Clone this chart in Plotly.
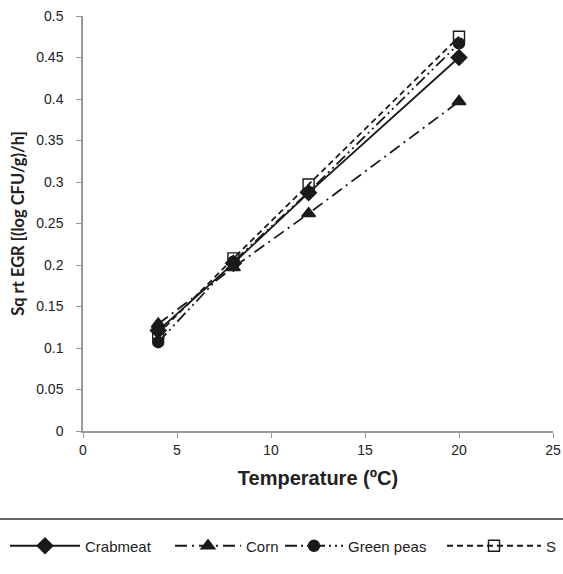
import plotly.graph_objects as go

temps = [4, 8, 12, 20]
crabmeat = [0.121, 0.202, 0.287, 0.450]
corn = [0.129, 0.197, 0.262, 0.397]
green_peas = [0.107, 0.204, 0.288, 0.467]
s_series = [0.117, 0.208, 0.297, 0.475]

series = [
    ("Crabmeat", crabmeat, "solid", "diamond", 12),
    ("Corn", corn, "12px,5px,2px,5px", "triangle-up", 12),
    ("Green peas", green_peas, "12px,4px,2px,4px,2px,4px", "circle", 11),
    ("S", s_series, "6px,4px", "square-open", 11),
]

# legend placement (container px) and symbol widths for each entry
legend_x_px = [5, 170, 280, 442]
legend_itemwidth = [70, 66, 58, 94]

FIG_W, FIG_H = 563, 574

fig = go.Figure()
for i, (name, vals, dash, sym, size) in enumerate(series):
    lg = "legend" if i == 0 else f"legend{i+1}"
    fig.add_trace(go.Scatter(
        x=temps, y=vals, name=name, mode="lines+markers", legend=lg,
        line=dict(color="#1a1a1a", width=1.8, dash=dash),
        marker=dict(symbol=sym, size=size, color="#1a1a1a",
                    line=dict(color="#1a1a1a", width=1.4)),
    ))

legend_font = dict(family="Liberation Sans, Arial, sans-serif", size=15, color="#222")
legend_common = dict(orientation="h", xref="container", yref="container",
                     y=1 - 546 / FIG_H, xanchor="left", yanchor="middle",
                     bgcolor="rgba(0,0,0,0)", font=legend_font,
                     itemsizing="trace", borderwidth=0)
legends = {}
for i in range(len(series)):
    key = "legend" if i == 0 else f"legend{i+1}"
    legends[key] = dict(legend_common, x=legend_x_px[i] / FIG_W,
                        itemwidth=legend_itemwidth[i])

axis_font = dict(family="Liberation Sans, Arial, sans-serif", size=14, color="#222")
fig.update_layout(
    width=FIG_W, height=FIG_H,
    margin=dict(l=83, r=10, t=16, b=143),
    paper_bgcolor="white", plot_bgcolor="white",
    showlegend=True,
    xaxis=dict(range=[0, 25], tickvals=[0, 5, 10, 15, 20, 25],
               showgrid=False, zeroline=False, showline=True, automargin=False,
               linecolor="#999", linewidth=1.5, ticks="outside",
               tickcolor="#999", ticklen=5, tickfont=axis_font,
               ticklabeloverflow="allow",
               title=dict(text="<b>Temperature (ºC)</b>",
                          font=dict(family="Liberation Sans, Arial, sans-serif",
                                    size=20, color="#222"), standoff=14)),
    yaxis=dict(range=[0, 0.5], tickvals=[0, 0.05, 0.1, 0.15, 0.2, 0.25, 0.3, 0.35, 0.4, 0.45, 0.5],
               ticktext=["0", "0.05", "0.1", "0.15", "0.2", "0.25", "0.3", "0.35", "0.4", "0.45", "0.5"],
               showgrid=False, zeroline=False, showline=True, automargin=False,
               linecolor="#999", linewidth=1.5, ticks="outside",
               tickcolor="#999", ticklen=5, tickfont=axis_font, ticklabelstandoff=10,
               ticklabeloverflow="allow",
               title=dict(text="<b>Sq rt EGR [(log CFU/g)/h]</b>",
                          font=dict(family="Lato, sans-serif", size=16.5, color="#222"),
                          standoff=7)),
    **legends,
)

fig.add_shape(type="line", xref="paper", yref="paper",
              x0=-0.2, x1=1.1, y0=-0.212, y1=-0.212,
              line=dict(color="#666", width=1.8))

fig.write_html("out.html",
               config={"displayModeBar": False},
               post_script="document.body.style.margin='0';"
                           "document.body.style.overflow='hidden';")
